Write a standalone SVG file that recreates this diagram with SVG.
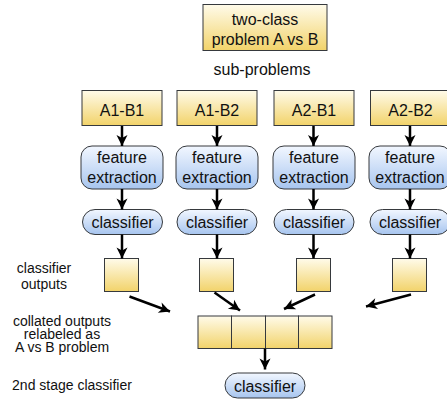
<svg xmlns="http://www.w3.org/2000/svg" width="447" height="403" viewBox="0 0 447 403">
<defs>
<linearGradient id="gy" x1="0" y1="0" x2="0" y2="1">
<stop offset="0" stop-color="#fffbea"/>
<stop offset="1" stop-color="#f2d36a"/>
</linearGradient>
<linearGradient id="gb" x1="0" y1="0" x2="0" y2="1">
<stop offset="0" stop-color="#f2f7ff"/>
<stop offset="1" stop-color="#a7c5ef"/>
</linearGradient>
<marker id="ah" markerUnits="userSpaceOnUse" markerWidth="13" markerHeight="13" viewBox="0 0 13 13" refX="12" refY="6.5" orient="auto">
<path d="M1,1 L12,6.5 L1,12 L4,6.5 z" fill="#000"/>
</marker>
<style>
.y{fill:url(#gy);stroke:#36393d;stroke-width:1}
.b{fill:url(#gb);stroke:#36393d;stroke-width:1}
.t{font-family:"Liberation Sans",Arial,sans-serif;font-size:16px;fill:#111;text-anchor:middle}
.l{font-family:"Liberation Sans",Arial,sans-serif;font-size:14px;fill:#111;text-anchor:middle}
.c{stroke:#000;stroke-width:2.5;fill:none;marker-end:url(#ah)}
</style>
</defs>
<g id="top">
<rect class="y" x="203" y="4.5" width="124" height="46"/>
<text class="t" x="265" y="25">two-class</text>
<text class="t" x="265" y="45">problem A vs B</text>
</g>
<g id="subproblems-label"><text class="t" x="262" y="74.5">sub-problems</text></g>

<g id="a1b1"><rect class="y" x="82" y="90.5" width="80" height="35"/><text class="t" x="122" y="115.5">A1-B1</text></g>
<g id="a1b2"><rect class="y" x="177" y="90.5" width="80" height="35"/><text class="t" x="217" y="115.5">A1-B2</text></g>
<g id="a2b1"><rect class="y" x="274" y="90.5" width="80" height="35"/><text class="t" x="314" y="115.5">A2-B1</text></g>
<g id="a2b2"><rect class="y" x="370.5" y="90.5" width="80" height="35"/><text class="t" x="410.5" y="115.5">A2-B2</text></g>

<g id="fe1"><rect class="b" x="81" y="146" width="82" height="43" rx="11"/><text class="t" x="122" y="162.5">feature</text><text class="t" x="122" y="182.5">extraction</text></g>
<g id="fe2"><rect class="b" x="176" y="146" width="82" height="43" rx="11"/><text class="t" x="217" y="162.5">feature</text><text class="t" x="217" y="182.5">extraction</text></g>
<g id="fe3"><rect class="b" x="273" y="146" width="82" height="43" rx="11"/><text class="t" x="314" y="162.5">feature</text><text class="t" x="314" y="182.5">extraction</text></g>
<g id="fe4"><rect class="b" x="369" y="146" width="82" height="43" rx="11"/><text class="t" x="410" y="162.5">feature</text><text class="t" x="410" y="182.5">extraction</text></g>

<g id="cl1"><rect class="b" x="82.5" y="209.5" width="80" height="25" rx="12.5"/><text class="t" x="122.5" y="227.5">classifier</text></g>
<g id="cl2"><rect class="b" x="177" y="209.5" width="80" height="25" rx="12.5"/><text class="t" x="217" y="227.5">classifier</text></g>
<g id="cl3"><rect class="b" x="274" y="209.5" width="80" height="25" rx="12.5"/><text class="t" x="314" y="227.5">classifier</text></g>
<g id="cl4"><rect class="b" x="370" y="209.5" width="80" height="25" rx="12.5"/><text class="t" x="410" y="227.5">classifier</text></g>

<g id="out1"><rect class="y" x="104.5" y="258.5" width="34" height="33"/></g>
<g id="out2"><rect class="y" x="199.5" y="258.5" width="34" height="33"/></g>
<g id="out3"><rect class="y" x="296.5" y="258.5" width="34" height="33"/></g>
<g id="out4"><rect class="y" x="392.5" y="258.5" width="34" height="33"/></g>

<g id="collated">
<rect class="y" x="198" y="316" width="33.5" height="32.5"/>
<rect class="y" x="231.5" y="316" width="34" height="32.5"/>
<rect class="y" x="265.5" y="316" width="33" height="32.5"/>
<rect class="y" x="298.5" y="316" width="33.5" height="32.5"/>
</g>

<g id="cl-final"><rect class="b" x="225" y="373" width="80" height="25" rx="12.5"/><text class="t" x="265" y="391.5">classifier</text></g>

<g id="labels">
<text class="l" x="44" y="272.5">classifier</text>
<text class="l" x="44" y="288.5">outputs</text>
<text class="l" x="62" y="325.5">collated outputs</text>
<text class="l" x="62" y="338.7">relabeled as</text>
<text class="l" x="62" y="352">A vs B problem</text>
<text class="l" x="72" y="390">2nd stage classifier</text>
</g>

<g id="connectors">
<line class="c" x1="122" y1="126" x2="122" y2="146"/>
<line class="c" x1="217" y1="126" x2="217" y2="146"/>
<line class="c" x1="313.5" y1="126" x2="313.5" y2="146"/>
<line class="c" x1="410" y1="126" x2="410" y2="146"/>
<line class="c" x1="122" y1="189" x2="122" y2="209.5"/>
<line class="c" x1="217" y1="189" x2="217" y2="209.5"/>
<line class="c" x1="313.5" y1="189" x2="313.5" y2="209.5"/>
<line class="c" x1="410" y1="189" x2="410" y2="209.5"/>
<line class="c" x1="122" y1="234.5" x2="122" y2="258.5"/>
<line class="c" x1="217" y1="234.5" x2="217" y2="258.5"/>
<line class="c" x1="313.5" y1="234.5" x2="313.5" y2="258.5"/>
<line class="c" x1="410" y1="234.5" x2="410" y2="258.5"/>
<line class="c" x1="129.5" y1="296.5" x2="170" y2="311.5"/>
<line class="c" x1="214.5" y1="292.5" x2="240" y2="310.5"/>
<line class="c" x1="315" y1="294.5" x2="284" y2="309"/>
<line class="c" x1="411" y1="294.5" x2="366" y2="306.5"/>
<line class="c" x1="265" y1="348.5" x2="265" y2="369.5"/>
</g>
</svg>
